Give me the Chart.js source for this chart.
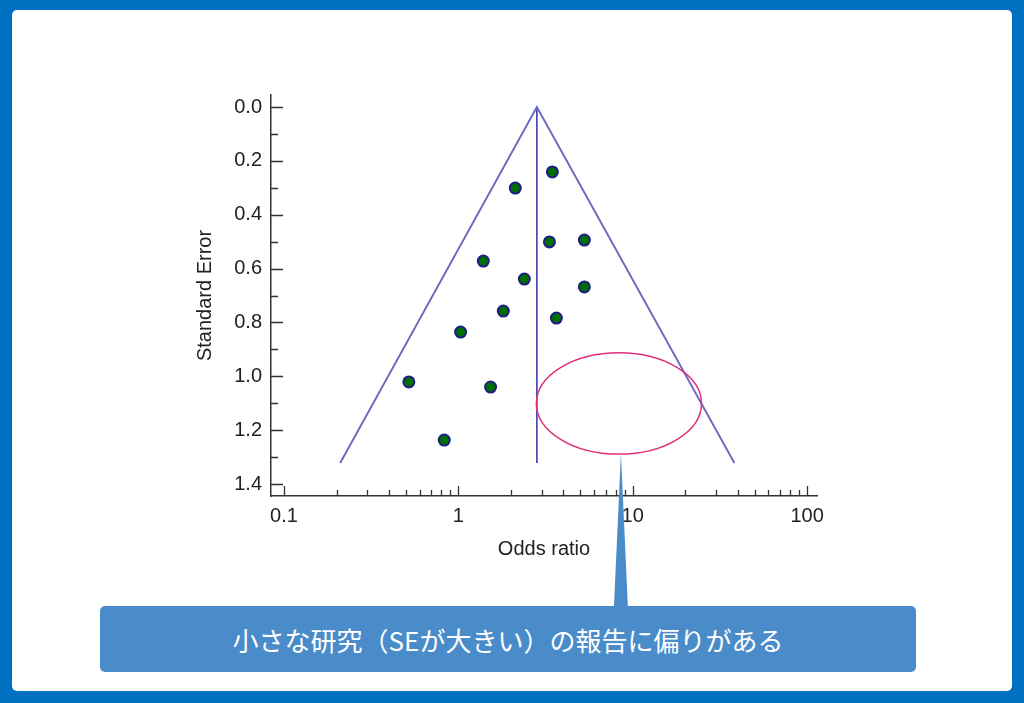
<!DOCTYPE html>
<html><head><meta charset="utf-8">
<script src="https://cdn.jsdelivr.net/npm/chart.js@4.4.1/dist/chart.umd.min.js"></script>
<style>
html,body{margin:0;padding:0;width:1024px;height:703px;overflow:hidden;background:#0070c0;}
#frame{position:absolute;left:12px;top:10px;width:1000px;height:681px;background:#fff;border-radius:5px;}
#wrap{position:absolute;left:0;top:0;width:1024px;height:703px;}
#callout{position:absolute;left:100px;top:606px;width:816px;height:66px;background:#4a8cc9;border-radius:5px;color:#fff;font-family:"Noto Sans CJK JP",sans-serif;font-size:26px;display:flex;align-items:center;justify-content:center;}
</style></head><body>
<div id="frame"></div>
<div id="callout">小さな研究（SEが大きい）の報告に偏りがある</div>
<div id="wrap"><canvas id="c"></canvas></div>
<script>
// Study estimates
const studyOR = [3.46, 2.12, 3.33, 5.28, 1.39, 2.39, 5.28, 1.81, 3.65, 1.03, 0.52, 1.53, 0.83];
const studySE = [0.241, 0.301, 0.501, 0.494, 0.572, 0.639, 0.668, 0.758, 0.784, 0.836, 1.021, 1.040, 1.237];
// Funnel (pseudo 95% CI limits) and pooled estimate line
const funnelOR = [0.21, 2.82, 38.3];
const funnelSE = [1.322, 0, 1.322];
const pooledOR = [2.82, 2.82];
const pooledSE = [0, 1.322];
// Highlighted region (annotation ellipse bounds)
const highlightOR = [2.80, 24.8];
const highlightSE = [0.913, 1.289];
// Ticks
const xTickValues = [0.1,0.2,0.3,0.4,0.5,0.6,0.7,0.8,0.9,1,2,3,4,5,6,7,8,9,10,20,30,40,50,60,70,80,90,100];
const xTickLabels = ['0.1','','','','','','','','','1','','','','','','','','','10','','','','','','','','','100'];
const yTickValues = [0,0.1,0.2,0.3,0.4,0.5,0.6,0.7,0.8,0.9,1.0,1.1,1.2,1.3,1.4];
const yTickLabels = ['0.0','','0.2','','0.4','','0.6','','0.8','','1.0','','1.2','','1.4'];

const toPts = (xs, ys) => xs.map((v, i) => ({x: v, y: ys[i]}));
const FONT = {family: '"Liberation Sans", Arial, sans-serif', size: 20};

const overlay = {
  id: 'overlay',
  afterDraw(chart) {
    const ctx = chart.ctx, xs = chart.scales.x, ys = chart.scales.y, a = chart.chartArea;
    ctx.save();
    ctx.strokeStyle = '#333';
    ctx.lineWidth = 1.3;
    ctx.beginPath();
    yTickValues.forEach((v, i) => {
      const p = Math.round(ys.getPixelForValue(v)) + 0.5;
      const L = yTickLabels[i] ? 12 : 7;
      ctx.moveTo(a.left, p); ctx.lineTo(a.left + L, p);
    });
    xTickValues.forEach((v, i) => {
      const p = Math.round(xs.getPixelForValue(v)) + 0.5;
      const L = xTickLabels[i] ? 10 : 6;
      ctx.moveTo(p, a.bottom); ctx.lineTo(p, a.bottom - L);
    });
    ctx.stroke();
    // highlight ellipse + callout pointer
    const x1 = xs.getPixelForValue(highlightOR[0]), x2 = xs.getPixelForValue(highlightOR[1]);
    const y1 = ys.getPixelForValue(highlightSE[0]), y2 = ys.getPixelForValue(highlightSE[1]);
    const cx = (x1 + x2) / 2, cy = (y1 + y2) / 2;
    ctx.fillStyle = '#4a8cc9';
    ctx.beginPath();
    ctx.moveTo(cx + 2, y2);
    ctx.lineTo(cx + 9, 607);
    ctx.lineTo(cx - 5, 607);
    ctx.closePath();
    ctx.fill();
    ctx.strokeStyle = '#e0307a';
    ctx.lineWidth = 1.5;
    ctx.beginPath();
    ctx.ellipse(cx, cy, (x2 - x1) / 2, (y2 - y1) / 2, 0, 0, Math.PI * 2);
    ctx.stroke();
    ctx.restore();
  }
};

new Chart(document.getElementById('c'), {
  type: 'scatter',
  data: {
    datasets: [
      {data: toPts(studyOR, studySE), pointRadius: 5.5, pointHoverRadius: 5.5, pointBorderWidth: 2,
       backgroundColor: '#006f00', borderColor: '#1e1e86', showLine: false},
      {data: toPts(funnelOR, funnelSE), showLine: true, pointRadius: 0, borderColor: '#6a6ac0', borderWidth: 1.9},
      {data: toPts(pooledOR, pooledSE), showLine: true, pointRadius: 0, borderColor: '#3232a8', borderWidth: 1.5}
    ]
  },
  options: {
    responsive: true, maintainAspectRatio: false, animation: false,
    layout: {padding: {left: 193, top: 95, right: 207, bottom: 141.5}},
    plugins: {legend: {display: false}, tooltip: {enabled: false}},
    scales: {
      x: {
        type: 'logarithmic', min: 0.0842, max: 114,
        afterBuildTicks(s) { s.ticks = xTickValues.map(v => ({value: v})); },
        afterFit(s) { s.height = 65.5; },
        grid: {drawOnChartArea: false, drawTicks: false},
        border: {color: '#333', width: 1.5},
        ticks: {autoSkip: false, maxRotation: 0, padding: 8, color: '#222', font: FONT,
                callback: (v, i) => xTickLabels[i]},
        title: {display: true, text: 'Odds ratio', color: '#222', font: FONT, padding: 0}
      },
      y: {
        type: 'linear', reverse: true, min: -0.0446, max: 1.4446,
        afterBuildTicks(s) { s.ticks = yTickValues.map(v => ({value: v})); },
        afterFit(s) { s.width = 78; },
        grid: {drawOnChartArea: false, drawTicks: false},
        border: {color: '#333', width: 1.5},
        ticks: {autoSkip: false, padding: 9, color: '#222', font: FONT,
                callback: (v, i) => yTickLabels[i]},
        title: {display: true, text: 'Standard Error', color: '#222', font: FONT, padding: 0}
      }
    }
  },
  plugins: [overlay]
});
</script>
</body></html>
